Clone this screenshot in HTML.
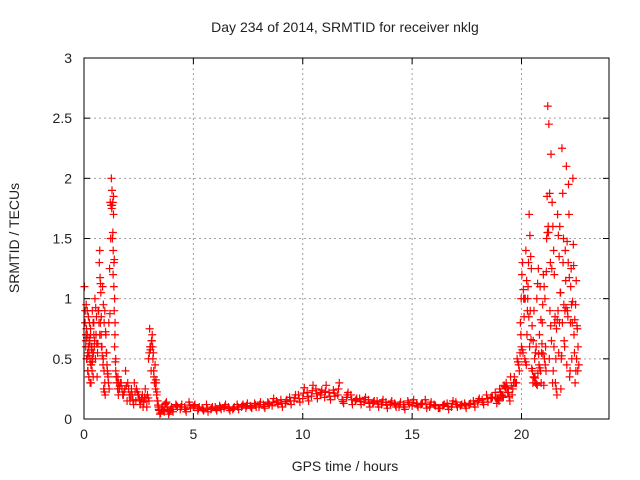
<!DOCTYPE html>
<html><head><meta charset="utf-8"><style>
body{margin:0;background:#fff;}
svg{display:block;font-family:"Liberation Sans",sans-serif;}
</style></head><body>
<svg id="c" width="640" height="480">
<text x="345" y="32" font-size="14" text-anchor="middle" fill="#222">Day 234 of 2014, SRMTID for receiver nklg</text>
<text x="345" y="471" font-size="14" text-anchor="middle" fill="#222">GPS time / hours</text>
<text transform="translate(19,238) rotate(-90)" font-size="14" text-anchor="middle" fill="#222">SRMTID / TECUs</text>
<g id="grid"></g>
<g id="ticks"></g>
<g id="pts"></g>
<rect x="84" y="58" width="525" height="361" fill="none" stroke="#000" stroke-width="1"/>
</svg>
<script>
const xTicks=[0,5,10,15,20];
const yTicks=[0,0.5,1,1.5,2,2.5,3];
const yLabels=["0","0.5","1","1.5","2","2.5","3"];
const times=[0.02,0.05,0.08,0.1,0.13,0.15,0.18,0.2,0.23,0.25,0.28,0.3,0.33,0.35,0.38,0.4,0.45,0.5,0.55,0.6,0.65,0.7,0.72,0.75,0.8,0.85,0.88,0.9,0.95,1.0,1.05,1.1,1.15,1.2,1.25,1.28,1.3,1.33,1.35,1.38,1.4,1.45,1.5,1.55,1.6,1.7,1.8,1.9,2.0,2.1,2.2,2.3,2.4,2.5,2.6,2.7,2.8,2.9,2.95,3.0,3.05,3.1,3.15,3.2,3.25,3.3,3.35,3.4,3.5,3.6,3.7,3.8,3.9,4.0,4.2,4.4,4.6,4.8,5.0,5.2,5.4,5.6,5.8,6.0,6.2,6.4,6.6,6.8,7.0,7.2,7.4,7.6,7.8,8.0,8.2,8.4,8.6,8.8,9.0,9.2,9.4,9.6,9.8,10.0,10.2,10.4,10.6,10.8,11.0,11.2,11.4,11.6,11.8,12.0,12.2,12.4,12.6,12.8,13.0,13.2,13.4,13.6,13.8,14.0,14.2,14.4,14.6,14.8,15.0,15.2,15.4,15.6,15.8,16.0,16.2,16.4,16.6,16.8,17.0,17.2,17.4,17.6,17.8,18.0,18.2,18.4,18.6,18.8,18.9,19.0,19.1,19.2,19.3,19.4,19.5,19.6,19.7,19.8,19.9,19.95,20.0,20.05,20.1,20.15,20.2,20.25,20.3,20.35,20.4,20.45,20.5,20.55,20.6,20.65,20.7,20.75,20.8,20.85,20.9,20.95,21.0,21.05,21.1,21.15,21.2,21.25,21.3,21.35,21.4,21.45,21.5,21.55,21.6,21.65,21.7,21.75,21.8,21.85,21.9,21.95,22.0,22.05,22.1,22.15,22.2,22.25,22.3,22.35,22.4,22.45,22.5,22.55];
const valuesA=[1.1,0.8,0.6,0.95,0.5,0.7,0.4,0.85,0.55,0.65,0.3,0.75,0.45,0.6,0.9,0.5,0.8,1.0,0.7,0.35,0.9,1.3,1.4,0.8,0.6,1.1,0.5,0.25,0.9,0.7,0.45,0.35,0.25,1.8,2.0,1.9,1.5,1.2,1.85,0.9,0.6,0.4,0.3,0.35,0.25,0.3,0.2,0.4,0.3,0.15,0.2,0.3,0.25,0.2,0.15,0.1,0.25,0.2,0.5,0.75,0.6,0.65,0.5,0.35,0.45,0.3,0.15,0.1,0.05,0.08,0.12,0.1,0.06,0.1,0.12,0.08,0.1,0.14,0.1,0.07,0.09,0.12,0.08,0.1,0.11,0.09,0.1,0.08,0.12,0.1,0.09,0.11,0.13,0.1,0.12,0.14,0.11,0.15,0.16,0.13,0.18,0.15,0.2,0.17,0.22,0.19,0.25,0.2,0.18,0.22,0.24,0.2,0.16,0.18,0.2,0.15,0.17,0.14,0.16,0.13,0.15,0.12,0.14,0.12,0.13,0.1,0.12,0.15,0.11,0.13,0.12,0.16,0.1,0.12,0.09,0.11,0.13,0.1,0.14,0.11,0.13,0.12,0.15,0.14,0.16,0.2,0.18,0.22,0.17,0.25,0.2,0.28,0.3,0.22,0.35,0.25,0.3,0.5,0.4,0.8,0.6,1.3,1.0,0.5,1.4,0.7,1.1,1.7,0.9,1.25,0.4,0.35,0.5,0.3,1.0,0.38,0.45,1.1,0.3,0.8,1.2,0.5,0.6,1.5,2.6,2.45,0.9,2.2,1.8,0.4,1.2,0.3,0.75,1.7,0.55,1.6,0.25,2.25,1.3,0.65,1.4,2.1,0.9,1.95,0.35,1.1,0.5,2.0,0.7,0.3,1.15,0.75];
const valuesB=[0.7,0.5,0.9,0.4,0.6,0.35,0.8,0.5,0.7,0.3,0.6,0.4,0.55,0.35,0.7,0.6,0.5,0.85,0.55,0.9,0.7,1.05,0.85,0.6,0.45,0.8,0.3,0.2,0.55,0.4,0.3,1.25,1.5,1.75,1.55,1.7,1.3,1.0,0.8,0.5,0.35,0.3,0.2,0.25,0.3,0.2,0.25,0.15,0.2,0.25,0.12,0.15,0.2,0.12,0.2,0.18,0.1,0.15,0.6,0.4,0.7,0.55,0.3,0.25,0.2,0.15,0.08,0.04,0.1,0.06,0.14,0.04,0.08,0.06,0.1,0.12,0.06,0.09,0.12,0.1,0.07,0.06,0.1,0.07,0.08,0.12,0.07,0.1,0.08,0.12,0.13,0.09,0.1,0.14,0.09,0.12,0.17,0.12,0.1,0.16,0.12,0.2,0.14,0.26,0.15,0.28,0.17,0.24,0.28,0.16,0.19,0.3,0.13,0.22,0.12,0.17,0.12,0.18,0.1,0.15,0.1,0.16,0.09,0.15,0.1,0.14,0.08,0.12,0.16,0.1,0.13,0.09,0.14,0.11,0.09,0.12,0.08,0.15,0.1,0.12,0.09,0.13,0.1,0.17,0.12,0.14,0.18,0.13,0.15,0.2,0.18,0.26,0.22,0.15,0.2,0.35,0.3,0.45,0.7,1.2,0.55,0.85,1.0,0.45,0.9,1.3,0.6,1.35,0.42,0.3,0.9,0.34,0.6,0.28,1.25,0.7,0.4,0.55,0.95,0.28,1.0,0.4,1.85,1.6,0.5,1.3,0.65,0.3,1.4,0.8,0.5,0.2,0.9,1.35,1.05,0.5,0.8,1.5,0.6,1.15,0.45,0.85,1.7,0.4,1.25,0.8,1.45,0.55,0.95,0.5,0.4,0.45];
const X0=84,X1=609,Y0=419,Y1=58,XMAX=24,YMAX=3;
const sx=v=>X0+(X1-X0)*v/XMAX, sy=v=>Y0-(Y0-Y1)*v/YMAX;
const NS="http://www.w3.org/2000/svg";
const grid=document.getElementById('grid'),ticks=document.getElementById('ticks'),pts=document.getElementById('pts');
function mk(tag,at,par){const e=document.createElementNS(NS,tag);for(const k in at)e.setAttribute(k,at[k]);par.appendChild(e);return e;}
xTicks.forEach(t=>{const x=sx(t);
 if(t>0){const g=mk('line',{x1:x,x2:x,y1:Y1,y2:Y0,stroke:'#a0a0a0','stroke-dasharray':'2,3'},grid);
 
 }
 mk('line',{x1:x,x2:x,y1:Y0,y2:Y0-6,stroke:'#000'},ticks);mk('line',{x1:x,x2:x,y1:Y1,y2:Y1+6,stroke:'#000'},ticks);
 const l=mk('text',{x:x,y:Y0+20,'font-size':14,'text-anchor':'middle',fill:'#222'},ticks);l.textContent=t;
 
 });
yTicks.forEach((t,i)=>{const y=sy(t);
 if(t>0&&t<3){const g=mk('line',{x1:X0,x2:X1,y1:y,y2:y,stroke:'#a0a0a0','stroke-dasharray':'2,3'},grid);
 
 }
 mk('line',{x1:X0,x2:X0+6,y1:y,y2:y,stroke:'#000'},ticks);mk('line',{x1:X1,x2:X1-6,y1:y,y2:y,stroke:'#000'},ticks);
 const l=mk('text',{x:X0-12,y:y+5,'font-size':14,'text-anchor':'end',fill:'#222'},ticks);l.textContent=yLabels[i];
 
 });
function plus(t,v){const x=sx(t),y=sy(v);
 const p=mk('path',{d:`M${x-4} ${y}H${x+4}M${x} ${y-4}V${y+4}`,stroke:'#f00','stroke-width':1.2},pts);
 
 }
times.forEach((t,i)=>{plus(t,valuesA[i]);plus(t+0.07,valuesB[i]);plus(t+0.035,(valuesA[i]+valuesB[i])/2);});
</script>
</body></html>
